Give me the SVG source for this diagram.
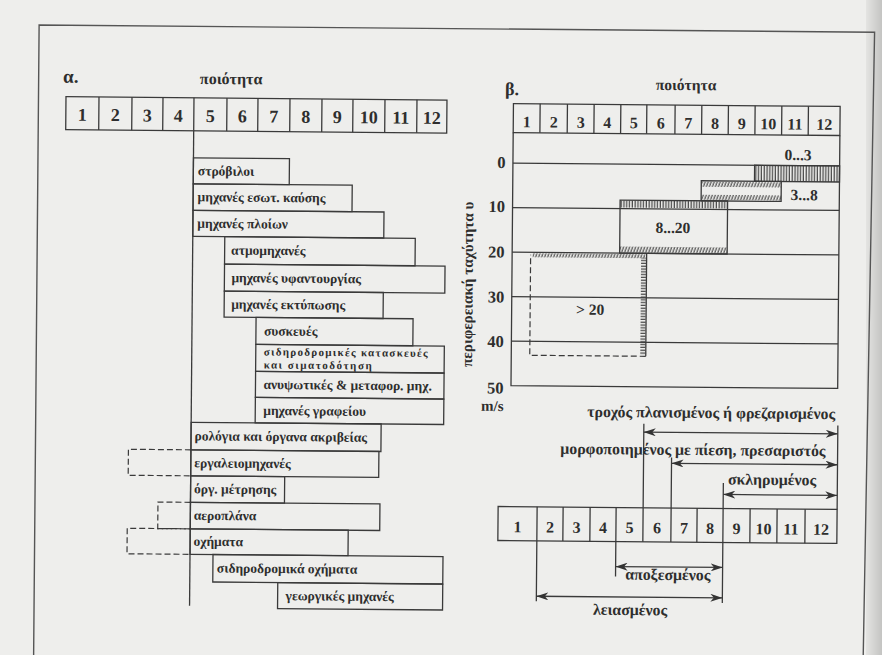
<svg xmlns="http://www.w3.org/2000/svg" width="882" height="655" viewBox="0 0 882 655">
<style>
.t{font-family:"Liberation Serif","DejaVu Serif",serif;font-weight:bold;fill:#2e2e2e}
.bl{font-size:13.5px}
.n1{font-size:18px;text-anchor:middle}
.n2{font-size:16px;text-anchor:middle}
.lab{font-size:15.8px;text-anchor:middle}
.ax{font-size:16.5px;text-anchor:end}
.ln{stroke:#3a3a3a;stroke-width:1.3;fill:none}
.dash{stroke:#3a3a3a;stroke-width:1.2;fill:none;stroke-dasharray:6 3}
.arr{stroke:#3a3a3a;stroke-width:1.3;fill:none;marker-start:url(#ah);marker-end:url(#ah)}
</style>
<defs>
<marker id="ah" viewBox="0 0 12 8" refX="12" refY="4" markerWidth="12" markerHeight="8" markerUnits="userSpaceOnUse" orient="auto-start-reverse"><path d="M0,0 L12,4 L0,8 L3.5,4 z" fill="#333"/></marker>
<pattern id="hv" patternUnits="userSpaceOnUse" width="2.8" height="4"><line x1="1.2" y1="0" x2="1.2" y2="4" stroke="#333" stroke-width="1.1"/></pattern>
<pattern id="hs" patternUnits="userSpaceOnUse" width="3" height="4" patternTransform="skewX(-20)"><line x1="1.2" y1="0" x2="1.2" y2="4" stroke="#333" stroke-width="1.1"/></pattern>
<pattern id="hh" patternUnits="userSpaceOnUse" width="6" height="2.8"><line x1="0" y1="1.2" x2="6" y2="1.2" stroke="#333" stroke-width="1.1"/></pattern>
<linearGradient id="gut" x1="0" y1="0" x2="1" y2="0"><stop offset="0" stop-color="#e4e4e2"/><stop offset="1" stop-color="#c4c4c2"/></linearGradient>
</defs>
<rect width="882" height="655" fill="#eeeeec"/>
<rect x="866" y="0" width="16" height="655" fill="url(#gut)"/>
<g transform="rotate(0.5 441 327)">
<g id="frame">
<path d="M36.5,660 L36.5,28.5 L872,28.5 L866,660" stroke="#555" stroke-width="1.4" fill="none"/>
</g>

<!-- ===== alpha ===== -->
<g id="alpha-title">
<text class="t" x="61" y="86" font-size="19">α.</text>
<text class="t" x="229" y="86" font-size="16" text-anchor="middle">ποιότητα</text>
</g>
<g id="alpha-scale">
<rect class="ln" x="64" y="100" width="381" height="33"/>
<path class="ln" d="M97,100V133M130,100V133M161,100V133M192,100V133M225,100V133M256,100V133M288,100V133M320,100V133M351,100V133M383,100V133M415,100V133"/>
<text class="t n1" y="124"><tspan x="80.5">1</tspan><tspan x="113.5">2</tspan><tspan x="145.5">3</tspan><tspan x="176.5">4</tspan><tspan x="208.5">5</tspan><tspan x="240.5">6</tspan><tspan x="272">7</tspan><tspan x="304">8</tspan><tspan x="335.5">9</tspan><tspan x="367">10</tspan><tspan x="399">11</tspan><tspan x="430">12</tspan></text>
</g>

<g id="connectors-alpha">
<path class="ln" d="M192,133V608"/>
<path class="dash" d="M192,452H129.5V478H192"/>
<path class="dash" d="M192,504.5H159.5V531H192"/>
<path class="dash" d="M192,531H129V556.5H192"/>
</g>

<g id="bar-strovili"><rect class="ln" x="192" y="160" width="96" height="26"/><text class="t bl" x="196.5" y="177.5">στρόβιλοι</text></g>
<g id="bar-esot-kausis"><rect class="ln" x="192" y="186" width="159" height="26.5"/><text class="t bl" x="196.5" y="203.5">μηχανές εσωτ. καύσης</text></g>
<g id="bar-ploion"><rect class="ln" x="192" y="212.5" width="191" height="26"/><text class="t bl" x="196.5" y="230">μηχανές πλοίων</text></g>
<g id="bar-atmomichanes"><rect class="ln" x="224" y="238.5" width="190.5" height="27.5"/><text class="t bl" x="230.5" y="256.5">ατμομηχανές</text></g>
<g id="bar-yfantourgias"><rect class="ln" x="224" y="266" width="220.5" height="27"/><text class="t bl" x="231" y="284">μηχανές υφαντουργίας</text></g>
<g id="bar-ektyposis"><rect class="ln" x="224" y="293" width="159" height="26"/><text class="t bl" x="231" y="310.5">μηχανές εκτύπωσης</text></g>
<g id="bar-syskeves"><rect class="ln" x="256" y="319" width="157" height="27"/><text class="t bl" x="264" y="337">συσκευές</text></g>
<g id="bar-sidirodromikes"><rect class="ln" x="256" y="346" width="188.5" height="27"/><text class="t" font-size="11" x="264" y="357" textLength="164" lengthAdjust="spacing">σιδηροδρομικές κατασκευές</text><text class="t" font-size="11" x="264" y="370" textLength="108" lengthAdjust="spacing">και σιματοδότηση</text></g>
<g id="bar-anypsotikes"><rect class="ln" x="256" y="373" width="188.5" height="26"/><text class="t bl" x="264" y="390.5">ανυψωτικές &amp; μεταφορ. μηχ.</text></g>
<g id="bar-grafeiou"><rect class="ln" x="256" y="399" width="188.5" height="25.5"/><text class="t bl" x="264" y="416.5">μηχανές γραφείου</text></g>
<g id="bar-rologia"><rect class="ln" x="192" y="424.5" width="190" height="27.5"/><text class="t bl" x="195.5" y="442.5">ρολόγια και όργανα ακριβείας</text></g>
<g id="bar-ergaleiomichanes"><rect class="ln" x="192" y="452" width="188" height="26"/><text class="t bl" x="195.5" y="469.5">εργαλειομηχανές</text></g>
<g id="bar-metrisis"><rect class="ln" x="192" y="478" width="94" height="26.5"/><text class="t bl" x="195.5" y="495.5">όργ. μέτρησης</text></g>
<g id="bar-aeroplana"><rect class="ln" x="192" y="504.5" width="189.5" height="26.5"/><text class="t bl" x="195.5" y="522">αεροπλάνα</text></g>
<g id="bar-ochimata"><rect class="ln" x="192" y="531" width="158" height="25.5"/><text class="t bl" x="195.5" y="548">οχήματα</text></g>
<g id="bar-sid-ochimata"><rect class="ln" x="215" y="556.5" width="230" height="27.5"/><text class="t bl" x="219" y="574.5">σιδηροδρομικά οχήματα</text></g>
<g id="bar-georgikes"><rect class="ln" x="280" y="584" width="165" height="26"/><text class="t bl" x="288" y="601.5">γεωργικές μηχανές</text></g>

<!-- ===== beta ===== -->
<g id="beta-title">
<text class="t" x="503" y="94.5" font-size="18">β.</text>
<text class="t" x="684" y="88" font-size="15.5" text-anchor="middle">ποιότητα</text>
</g>
<g id="beta-scale">
<rect class="ln" x="511.5" y="103" width="326.7" height="29"/>
<path class="ln" d="M538.2,103V132M565.5,103V132M592.2,103V132M618.9,103V132M644.9,103V132M673.2,103V132M699.9,103V132M726.5,103V132M753.2,103V132M779.9,103V132M806.5,103V132"/>
<text class="t n2" y="126.5"><tspan x="524.9">1</tspan><tspan x="551.9">2</tspan><tspan x="578.9">3</tspan><tspan x="605.6">4</tspan><tspan x="631.9">5</tspan><tspan x="659">6</tspan><tspan x="686.6">7</tspan><tspan x="713.2">8</tspan><tspan x="739.9">9</tspan><tspan x="766.6">10</tspan><tspan x="793.2">11</tspan><tspan x="822.4">12</tspan></text>
</g>
<g id="beta-chart">
<path class="ln" d="M511.5,132V385H838.2V132"/>
<path class="ln" d="M511.5,162.5H838.2M511.5,207H838.2M511.5,251.5H838.2M511.5,296H838.2M511.5,340.5H838.2"/>
<text class="t ax" x="504" y="167.5">0</text>
<text class="t ax" x="504" y="211.5">10</text>
<text class="t ax" x="504" y="257">20</text>
<text class="t ax" x="504" y="302">30</text>
<text class="t ax" x="504" y="346.5">40</text>
<text class="t ax" x="504" y="393">50</text>
<text class="t" x="493" y="410.5" font-size="15" text-anchor="middle">m/s</text>
<text class="t" font-size="15.2" text-anchor="middle" transform="translate(472.3 284) rotate(-90)">περιφερειακή ταχύτητα υ</text>
</g>
<g id="zone-0-3">
<rect x="753.2" y="162.5" width="85" height="16" fill="url(#hv)"/>
<rect class="ln" x="753.2" y="162.5" width="85" height="16"/>
<text class="t" x="796.5" y="157" font-size="15.5" text-anchor="middle">0...3</text>
</g>
<g id="zone-3-8">
<rect x="700" y="179.5" width="80" height="5" fill="url(#hs)"/>
<rect x="700" y="192.5" width="80" height="5" fill="url(#hs)"/>
<rect class="ln" x="700" y="178.5" width="80" height="20"/>
<text class="t" x="803" y="197" font-size="15.5" text-anchor="middle">3...8</text>
</g>
<g id="zone-8-20">
<rect x="619" y="199" width="107.5" height="7" fill="url(#hv)"/>
<rect x="619" y="245" width="107.5" height="6" fill="url(#hs)"/>
<rect class="ln" x="619" y="198.5" width="107.5" height="53"/>
<text class="t" x="672" y="231" font-size="15.5" text-anchor="middle">8...20</text>
</g>
<g id="zone-over-20">
<rect x="532" y="252.5" width="113" height="4" fill="url(#hs)"/>
<rect x="640.5" y="256" width="5" height="97" fill="url(#hh)"/>
<path class="ln" d="M646,251.5V354.5"/>
<path class="dash" d="M646,354.5H530V254"/>
<text class="t" x="590" y="313.5" font-size="15.5" text-anchor="middle">&gt; 20</text>
</g>

<!-- ===== bottom scale ===== -->
<g id="bottom-scale">
<rect class="ln" x="499.7" y="506" width="339" height="34"/>
<path class="ln" d="M538.7,506V540M564.7,506V540M591.7,506V540M617.7,506V540M644.7,506V540M672.7,506V540M698.7,506V540M724.7,506V540M751.7,506V540M778.7,506V540M806.7,506V540"/>
<text class="t n2" y="531.5" font-size="16.5"><tspan x="519.2">1</tspan><tspan x="551.7">2</tspan><tspan x="578.2">3</tspan><tspan x="604.7">4</tspan><tspan x="631.2">5</tspan><tspan x="658.7">6</tspan><tspan x="685.7">7</tspan><tspan x="711.7">8</tspan><tspan x="738.2">9</tspan><tspan x="765.2">10</tspan><tspan x="792.7">11</tspan><tspan x="822.7">12</tspan></text>
</g>
<g id="connectors">
<path class="ln" d="M644.7,422V506M838.7,422V506M672.7,455.5V506M724.7,480.5V506M724.7,540V600.5M617.7,540V575M538.7,540V600.5"/>
<path class="arr" d="M644.7,430.4H838.7"/>
<path class="arr" d="M672.7,461.3H838.7"/>
<path class="arr" d="M724.7,492H838.7"/>
<path class="arr" d="M617.7,565H724.7"/>
<path class="arr" d="M538.7,595.4H724.7"/>
</g>
<g id="labels-bottom">
<text class="t lab" x="712" y="415.6">τροχός πλανισμένος ή φρεζαρισμένος</text>
<text class="t lab" x="694" y="452.8">μορφοποιημένος με πίεση, πρεσαριστός</text>
<text class="t lab" x="773.4" y="482">σκληρυμένος</text>
<text class="t lab" x="670" y="578">αποξεσμένος</text>
<text class="t lab" x="632.5" y="613.4">λειασμένος</text>
</g>
</g>
</svg>
